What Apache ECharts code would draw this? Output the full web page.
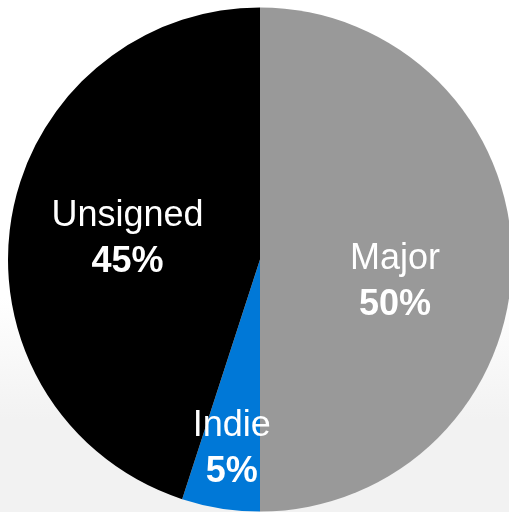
<!DOCTYPE html>
<html>
<head>
<meta charset="utf-8">
<script src="https://cdn.jsdelivr.net/npm/echarts@6/dist/echarts.min.js"></script>
<style>
  html, body { margin: 0; padding: 0; }
  body {
    width: 509px; height: 512px; overflow: hidden;
    background: linear-gradient(to bottom, #ffffff 0%, #ffffff 58%, #f2f2f2 82%, #f2f2f2 100%);
  }
  #chart { width: 509px; height: 512px; }
</style>
</head>
<body>
<div id="chart"></div>
<script>
// Share of releases by label type (percent)
const categories = ['Major', 'Indie', 'Unsigned'];
const shares = [50, 5, 45];
const colors = ['#999999', '#0078d7', '#000000'];

// Nudges for each slice label away from the slice mid-radius
const labelNudge = {
  Major: [6, 23],
  Indie: [-8, 62],
  Unsigned: [-5, 0]
};

const chart = echarts.init(document.getElementById('chart'), null, { renderer: 'canvas' });

chart.setOption({
  backgroundColor: 'transparent',
  animation: false,
  series: [{
    type: 'pie',
    center: [260, 259.5],
    radius: 252,
    startAngle: 90,
    clockwise: true,
    silent: true,
    data: categories.map((name, i) => ({
      name,
      value: shares[i],
      itemStyle: { color: colors[i] }
    })),
    itemStyle: { borderWidth: 0 },
    label: {
      show: true,
      position: 'inside',
      formatter: '{n|{b}}\n{v|{c}%}',
      color: '#ffffff',
      rich: {
        n: {
          fontFamily: '"Liberation Sans", Arial, sans-serif',
          fontSize: 36,
          fontWeight: 'normal',
          color: '#ffffff',
          lineHeight: 46,
          align: 'center'
        },
        v: {
          fontFamily: '"Liberation Sans", Arial, sans-serif',
          fontSize: 36,
          fontWeight: 'bold',
          color: '#ffffff',
          lineHeight: 46,
          align: 'center'
        }
      }
    },
    labelLine: { show: false },
    labelLayout: function (params) {
      const d = labelNudge[categories[params.dataIndex]];
      return { dx: d[0], dy: d[1] };
    }
  }]
});
</script>
</body>
</html>
